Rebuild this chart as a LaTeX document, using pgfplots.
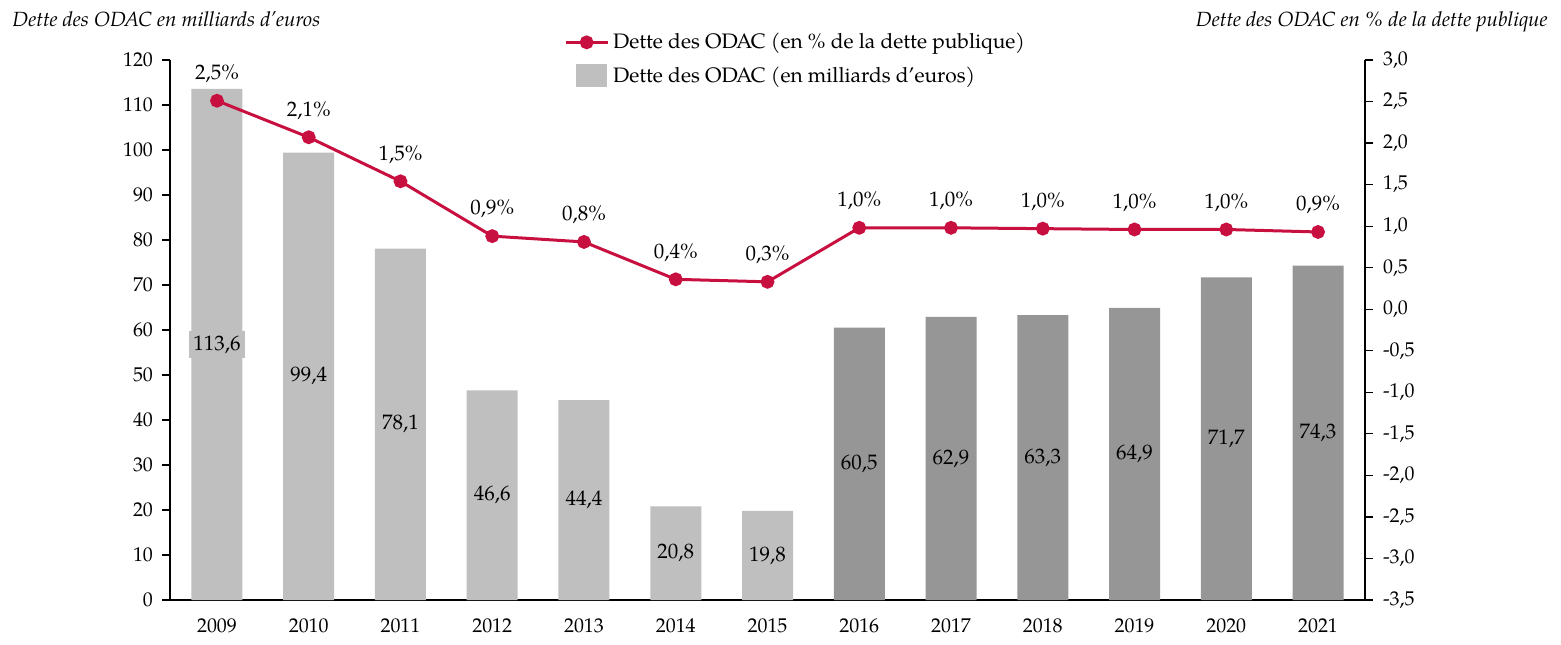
\documentclass[border=0pt]{standalone}
\usepackage{fontspec}
\setmainfont{TeX Gyre Pagella}
\usepackage{pgfplots}
\pgfplotsset{compat=1.18}
\usepackage{pgfplotstable}
\definecolor{barlight}{RGB}{191,191,191}
\definecolor{bardark}{RGB}{150,150,150}
\definecolor{crim}{RGB}{200,16,64}

\pgfplotstableread{
x val lab
0 113.6 113,6
1 99.4 99,4
2 78.1 78,1
3 46.6 46,6
4 44.4 44,4
5 20.8 20,8
6 19.8 19,8
}\barsA
\pgfplotstableread{
x val lab
7 60.5 60,5
8 62.9 62,9
9 63.3 63,3
10 64.9 64,9
11 71.7 71,7
12 74.3 74,3
}\barsB
\pgfplotstableread{
x pct
0 2.51
1 2.07
2 1.54
3 0.88
4 0.81
5 0.36
6 0.33
7 0.98
8 0.98
9 0.97
10 0.96
11 0.96
12 0.93
}\pct

\begin{document}
\begin{tikzpicture}
\path[use as bounding box] (-85bp,-22.5bp) rectangle (695.5bp,300bp);
\pgfplotsset{
  every tick label/.append style={font=\fontsize{10}{12}\selectfont},
}
\begin{axis}[
  scale only axis,
  width=597.5bp, height=270bp,
  xmin=-0.512, xmax=12.512,
  ymin=0, ymax=120,
  axis x line*=bottom,
  axis y line*=left,
  axis line style={line width=0.6bp},
  xtick={0,...,12},
  xticklabels={2009,2010,2011,2012,2013,2014,2015,2016,2017,2018,2019,2020,2021},
  x tick style={draw=none},
  xticklabel style={yshift=-2bp},
  ytick={0,10,...,120},
  y tick style={line width=0.6bp, black},
  tick align=outside,
  major tick length=4bp,
  /pgf/number format/assume math mode=true,
  yticklabel style={xshift=-1bp},
  clip=false,
]
\addplot[ybar, bar width=25.5bp, fill=barlight, draw=none] table[x=x, y=val] {\barsA};
\addplot[ybar, bar width=25.5bp, fill=bardark, draw=none] table[x=x, y=val] {\barsB};
% labels at mid height
\addplot[only marks, mark=none, nodes near coords, point meta=explicit symbolic,
  every node near coord/.style={anchor=center, font=\fontsize{10.5}{12}\selectfont, fill=barlight, inner xsep=2bp, inner ysep=2.5bp}]
  table[x=x, y expr=\thisrow{val}/2, meta=lab] {
x val lab
0 113.6 113,6
};
\addplot[only marks, mark=none, nodes near coords, point meta=explicit symbolic,
  every node near coord/.style={anchor=center, font=\fontsize{10.5}{12}\selectfont}]
  table[x=x, y expr=\thisrow{val}/2, meta=lab] {
x val lab
1 99.4 99,4
2 78.1 78,1
3 46.6 46,6
4 44.4 44,4
5 20.8 20,8
6 19.8 19,8
7 60.5 60,5
8 62.9 62,9
9 63.3 63,3
10 64.9 64,9
11 71.7 71,7
12 74.3 74,3
};
\end{axis}
\begin{axis}[
  scale only axis,
  width=597.5bp, height=270bp,
  xmin=-0.512, xmax=12.512,
  ymin=-3.5, ymax=3.0,
  axis x line=none,
  axis y line*=right,
  axis line style={line width=0.6bp},
  ytick={-3.5,-3,...,3},
  yticklabels={{-3,5},{-3,0},{-2,5},{-2,0},{-1,5},{-1,0},{-0,5},{0,0},{0,5},{1,0},{1,5},{2,0},{2,5},{3,0}},
  y tick style={line width=0.6bp, black},
  tick align=outside,
  major tick length=4bp,
  yticklabel style={xshift=1.5bp},
  clip=false,
  legend style={at={(0.3295,1.058)}, anchor=north west, draw=none, fill=none,
    font=\fontsize{10.5}{12}\selectfont, row sep=3.5bp, inner sep=0pt,
    cells={anchor=west}},
  legend cell align=left,
]
\addplot[crim, line width=1.5bp, mark=*, mark size=2.7bp,
  mark options={fill=crim, draw=crim},
  nodes near coords={\pgfmathprintnumber{\pgfplotspointmeta}\%},
  point meta=y,
  every node near coord/.style={anchor=center, yshift=13.5bp, black,
    font=\fontsize{10.5}{12}\selectfont,
    /pgf/number format/.cd, fixed, fixed zerofill, precision=1, use comma, assume math mode=true},
  legend image code/.code={
    \draw[crim, line width=1.5bp] (0bp,0bp) -- (21bp,0bp);
    \fill[crim] (10.5bp,0bp) circle (2.7bp);
  }]
  table[x=x, y=pct] {\pct};
\addlegendentry{Dette des ODAC (en \% de la dette publique)}
\addlegendimage{legend image code/.code={
    \fill[barlight] (5.5bp,-5.5bp) rectangle (20.5bp,5.5bp);
  }}
\addlegendentry{Dette des ODAC (en milliards d’euros)}
\end{axis}
\node[anchor=base west, inner sep=0pt, font=\itshape\fontsize{10.3}{12}\selectfont] at (-79bp,286.5bp) {Dette des ODAC en milliards d’euros};
\node[anchor=base east, inner sep=0pt, font=\itshape\fontsize{10.3}{12}\selectfont] at (689bp,286.5bp) {Dette des ODAC en \% de la dette publique};
\end{tikzpicture}
\end{document}
